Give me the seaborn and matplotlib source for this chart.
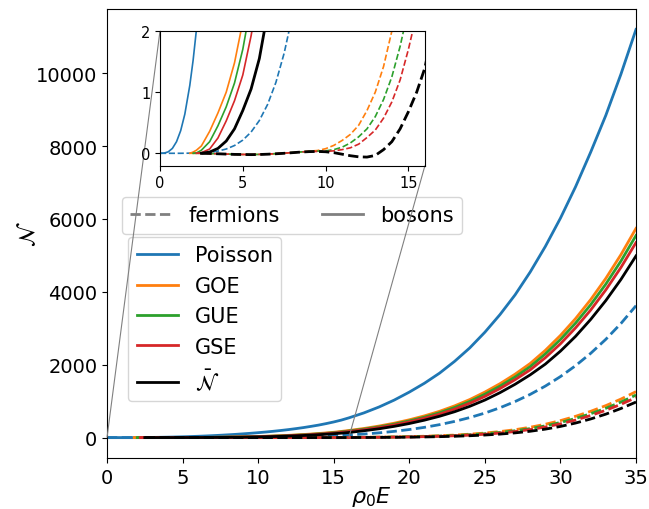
import numpy as np
import matplotlib
matplotlib.use("Agg")
import matplotlib.pyplot as plt
import seaborn as sns
from matplotlib.lines import Line2D
from mpl_toolkits.axes_grid1.inset_locator import mark_inset

nan = np.nan

# energy grid (rho_0 E)
E = [0, 0.25, 0.5, 0.75, 1, 1.25, 1.5, 1.8, 2, 2.2, 2.5, 3, 3.5, 4, 4.5, 5, 5.5, 6, 6.5, 7, 7.5, 8, 8.5,
     9, 9.5, 10, 10.5, 11, 11.5, 12, 12.5, 13, 13.5, 14, 14.5, 15, 15.5, 16,
     17, 18, 19, 20, 21, 22, 23, 24, 25, 26, 27, 28, 29, 30, 31, 32, 33, 34, 35]

# bosons (solid)
poisson_b = [0, 0.003, 0.024, 0.08, 0.19, 0.37, 0.64, 1.11, 1.52, 2.02, 2.97, 5.1, 8.1, 11.8, 16.4, 21.9, 28.3, 35.6, 44.0, 53.5, 64.0, 75.8, 88.4,
             103, 118, 135, 153, 173, 195, 219, 246, 275, 308, 343, 384, 429, 480, 541,
             678, 840, 1029, 1248, 1491, 1768, 2093, 2461, 2891, 3375, 3917, 4544, 5244, 6021, 6882, 7832, 8840, 9970, 11200]
goe_b = [nan, nan, nan, nan, nan, nan, nan, 0, 0.02, 0.05, 0.12, 0.36, 0.66, 1.0, 1.48, 2.15, 3.1, 4.33, 5.89, 7.83, 10.2, 13.1, 16.5,
         20.6, 25.3, 30.8, 37.1, 44.4, 52.7, 62, 72.5, 84.3, 97.4, 112, 128, 146, 169, 195,
         250, 317, 395, 488, 596, 721, 871, 1044, 1249, 1479, 1740, 2034, 2394, 2803, 3265, 3785, 4367, 5018, 5740]
gue_b = [nan, nan, nan, nan, nan, nan, nan, nan, 0, 0.005, 0.05, 0.19, 0.45, 0.76, 1.15, 1.7, 2.45, 3.45, 4.88, 6.57, 8.66, 11.2, 14.3,
         18.0, 22.2, 27.2, 33.0, 39.7, 47.4, 56.0, 65.7, 76.7, 88.9, 102.6, 117.6, 134, 156, 180,
         232, 295, 369, 458, 561, 682, 826, 992, 1190, 1412, 1663, 1948, 2296, 2692, 3141, 3645, 4210, 4842, 5545]
gse_b = [nan, nan, nan, nan, nan, nan, nan, nan, nan, 0, 0.01, 0.07, 0.25, 0.53, 0.86, 1.28, 1.92, 2.7, 3.94, 5.39, 7.2, 9.45, 12.2,
         15.5, 19.3, 23.9, 29.1, 35.3, 42.3, 50.4, 59.4, 69.6, 80.9, 94.0, 108, 123, 144, 166,
         215, 275, 346, 431, 530, 643, 781, 942, 1130, 1346, 1589, 1859, 2192, 2574, 3011, 3499, 4052, 4667, 5350]
nbar_b = [nan, nan, nan, nan, nan, nan, nan, nan, nan, nan, 0, 0.02, 0.08, 0.2, 0.4, 0.7, 1.05, 1.55, 2.3, 3.4, 4.7, 6.47, 8.59,
          11.2, 14.3, 18.1, 22.6, 27.7, 33.7, 40.8, 48.7, 57.7, 67.9, 79.6, 92.4, 106.7, 122, 140,
          188, 242, 308, 386, 478, 585, 710, 858, 1030, 1233, 1463, 1722, 2016, 2372, 2778, 3242, 3759, 4338, 4985]

# fermions (dashed)
poisson_f = [0, 0, 0, 0, 0, 0, 0.001, 0.002, 0.003, 0.004, 0.007, 0.015, 0.036, 0.07, 0.127, 0.215, 0.347, 0.536, 0.8, 1.16, 1.64, 2.26, 3.06,
             4.07, 5.33, 6.89, 8.79, 11.1, 13.9, 17.1, 21.0, 25.6, 30.9, 37.1, 44.1, 52.3, 61.7, 72.2,
             97.8, 130, 171, 221, 281, 355, 444, 549, 673, 819, 989, 1186, 1413, 1674, 1973, 2312, 2696, 3130, 3619]
goe_f = [nan, nan, nan, nan, nan, nan, nan, 0, 0, 0, 0, -0.003, -0.008, -0.013, -0.017, -0.019, -0.02, -0.018, -0.013, -0.006, 0.002, 0.012, 0.022,
         0.035, 0.045, 0.075, 0.13, 0.21, 0.31, 0.46, 0.7, 1.0, 1.42, 2.0, 2.61, 3.42, 4.34, 5.5,
         8.51, 12.8, 18.6, 26.5, 37.2, 51.2, 69.6, 93.5, 124.5, 165, 217, 284, 366, 466, 584, 721, 877, 1056, 1261]
gue_f = [nan, nan, nan, nan, nan, nan, nan, nan, 0, 0, 0, -0.003, -0.008, -0.013, -0.017, -0.019, -0.02, -0.018, -0.013, -0.006, 0.002, 0.012, 0.022,
         0.03, 0.035, 0.04, 0.06, 0.1, 0.17, 0.27, 0.4, 0.6, 0.88, 1.25, 1.75, 2.36, 3.07, 3.94,
         6.37, 9.8, 14.6, 21.3, 30.2, 42.2, 58.0, 78.8, 105.9, 141, 187.5, 247, 322, 414, 525, 655, 804, 975, 1168]
gse_f = [nan, nan, nan, nan, nan, nan, nan, nan, nan, 0, 0, -0.003, -0.008, -0.013, -0.017, -0.019, -0.02, -0.018, -0.013, -0.006, 0.002, 0.012, 0.022,
         0.028, 0.03, 0.03, 0.04, 0.06, 0.09, 0.15, 0.258, 0.38, 0.575, 0.84, 1.2, 1.7, 2.28, 2.97,
         5.06, 7.96, 12.06, 17.8, 25.6, 36.2, 50.2, 68.7, 92.9, 124.5, 166.5, 221, 290, 377, 481, 606, 749, 913, 1099]
nbar_f = [nan, nan, nan, nan, nan, nan, nan, nan, nan, nan, 0, -0.003, -0.008, -0.013, -0.018, -0.02, -0.022, -0.02, -0.015, -0.008, 0, 0.01, 0.02,
          0.027, 0.03, 0.025, 0.01, -0.015, -0.04, -0.058, -0.062, -0.035, 0.06, 0.19, 0.4, 0.68, 1.0, 1.4,
          2.76, 4.68, 7.5, 11.6, 17.4, 25.4, 36.2, 50.9, 70.2, 96, 129.5, 173.7, 232, 306, 399, 511, 643, 798, 975]

names = ["Poisson", "GOE", "GUE", "GSE", r"$\bar{\mathcal{N}}$"]
colors = ["tab:blue", "tab:orange", "tab:green", "tab:red", "black"]
bosons = [poisson_b, goe_b, gue_b, gse_b, nbar_b]
fermions = [poisson_f, goe_f, gue_f, gse_f, nbar_f]

fig = plt.figure(figsize=(6.49, 5.10), dpi=100)
ax = fig.add_axes([0.1649, 0.1, 0.8151, 0.8804])
axins = fig.add_axes([0.2465, 0.6735, 0.4083, 0.2637])

for a, lw_c, lw_k in [(ax, 2, 2), (axins, 1.2, 2)]:
    for yb, yf, c in zip(bosons, fermions, colors):
        lw = lw_k if c == "black" else lw_c
        sns.lineplot(x=E, y=yf, ax=a, color=c, lw=lw, linestyle="--", errorbar=None)
        sns.lineplot(x=E, y=yb, ax=a, color=c, lw=lw, errorbar=None)

ax.set_xlim(0, 35)
ax.set_xlabel(r"$\rho_0 E$", fontsize=16, labelpad=-2)
ax.set_ylabel(r"$\mathcal{N}$", fontsize=16, labelpad=-2)
ax.tick_params(labelsize=14)

axins.set_xlim(0, 16)
axins.set_ylim(-0.2, 2)
axins.set_xticks([0, 5, 10, 15])
axins.set_yticks([0, 1, 2])
axins.tick_params(labelsize=10.5)
mark_inset(ax, axins, loc1=2, loc2=4, fc="none", ec="0.5", lw=0.8)

# legends
style_h = [Line2D([], [], color="gray", lw=2, ls="--"), Line2D([], [], color="gray", lw=2)]
leg1 = ax.legend(style_h, ["fermions", "bosons"], ncol=2, fontsize=15, loc="upper left",
                 bbox_to_anchor=(0.028, 0.581), borderaxespad=0)
ax.add_artist(leg1)
ens_h = [Line2D([], [], color=c, lw=2) for c in colors]
ax.legend(ens_h, names, fontsize=15, loc="upper left", bbox_to_anchor=(0.040, 0.492), borderaxespad=0)

fig.savefig("out.png", dpi=100)
